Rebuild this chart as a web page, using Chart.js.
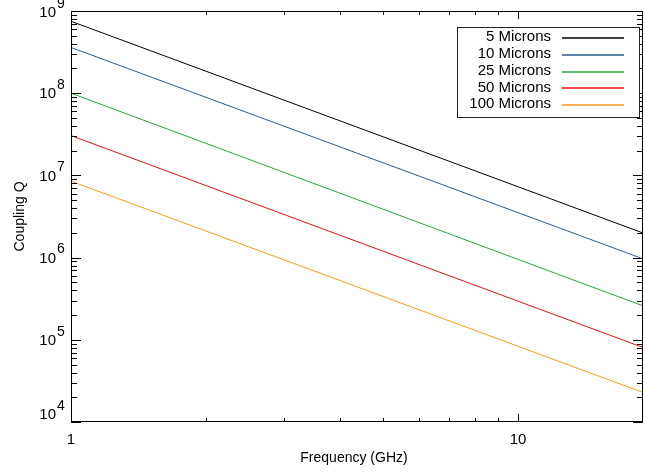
<!DOCTYPE html>
<html>
<head>
<meta charset="utf-8">
<script src="https://cdn.jsdelivr.net/npm/chart.js@4"></script>
<style>
  html, body { margin: 0; padding: 0; background: #fff; }
  #wrap { width: 645px; height: 473px; }
</style>
</head>
<body>
<div id="wrap"><canvas id="graf" width="645" height="473"></canvas></div>
<script>
// frequency end points (GHz) and coupling Q
var freq = [1, 19];
var q5 = [7.5e8, 2.0e6];
var q10 = [3.6e8, 9.7e5];
var q25 = [1.0e8, 2.6e5];
var q50 = [3.05e7, 8.1e4];
var q100 = [8.5e6, 2.3e4];
var labels = ["5 Microns", "10 Microns", "25 Microns", "50 Microns", "100 Microns"];
var colors = ["#000000", "#2b5c8e", "#2aa83a", "#e01010", "#ff9a1a"];
var xTicks = [1, 10];
var yTicks = [1e4, 1e5, 1e6, 1e7, 1e8, 1e9];

var series = [q5, q10, q25, q50, q100];
var FONT = "Liberation Sans, Arial, sans-serif";

function pts(vals) {
  return freq.map(function (f, i) { return { x: f, y: vals[i] }; });
}

// axes, ticks, labels and the legend drawn by hand
var decor = {
  id: "decor",
  afterDraw: function (chart) {
    var ctx = chart.ctx;
    var a = chart.chartArea;
    var xs = chart.scales.x, ys = chart.scales.y;
    ctx.save();
    ctx.strokeStyle = "#000";
    ctx.lineWidth = 1;
    ctx.strokeRect(a.left + 0.5, a.top + 0.5, a.right - a.left - 1, a.bottom - a.top - 1);

    // x ticks (bottom + top, inward)
    ctx.beginPath();
    for (var d = 1; d <= 10; d *= 10) {
      for (var m = 1; m <= 9; m++) {
        var v = d * m;
        if (v > xs.max) break;
        var px = Math.round(xs.getPixelForValue(v)) + 0.5;
        var len = (m === 1) ? 8 : 4;
        ctx.moveTo(px, a.bottom); ctx.lineTo(px, a.bottom - len);
        ctx.moveTo(px, a.top); ctx.lineTo(px, a.top + len);
      }
    }
    // y ticks (left + right, inward)
    for (var e = 4; e <= 9; e++) {
      for (var k = 1; k <= 9; k++) {
        var val = Math.pow(10, e) * k;
        if (val > ys.max) break;
        var py = Math.round(ys.getPixelForValue(val)) + 0.5;
        var l2 = (k === 1) ? 10 : 6;
        ctx.moveTo(a.left, py); ctx.lineTo(a.left + l2, py);
        ctx.moveTo(a.right, py); ctx.lineTo(a.right - l2, py);
      }
    }
    ctx.stroke();

    ctx.fillStyle = "#000";
    // x tick labels
    ctx.font = "15px " + FONT;
    ctx.textAlign = "center";
    ctx.textBaseline = "middle";
    xTicks.forEach(function (t) {
      ctx.fillText(String(t), xs.getPixelForValue(t), a.bottom + 18);
    });
    // y tick labels 10^n
    yTicks.forEach(function (t, i) {
      var py = ys.getPixelForValue(t);
      if (i === 0) py -= 7;
      else if (i === yTicks.length - 1) py += 2;
      else py += 1;
      var ex = String(Math.round(Math.log10(t)));
      ctx.textBaseline = "middle";
      ctx.font = "14px " + FONT;
      ctx.textAlign = "left";
      ctx.fillText(ex, 57, py - 9);
      ctx.font = "15px " + FONT;
      ctx.textAlign = "right";
      ctx.fillText("10", 56, py);
    });
    // axis titles
    ctx.font = "14px " + FONT;
    ctx.textAlign = "center";
    ctx.fillText("Frequency (GHz)", (a.left + a.right) / 2 - 3, a.bottom + 36);
    ctx.save();
    ctx.translate(20, (a.top + a.bottom) / 2);
    ctx.rotate(-Math.PI / 2);
    ctx.fillText("Coupling Q", 0, 0);
    ctx.restore();

    // legend
    var bx = 457, by = 27, bw = 182, bh = 90;
    ctx.fillStyle = "#fff";
    ctx.fillRect(bx, by, bw, bh);
    ctx.strokeStyle = "#222";
    ctx.lineWidth = 1;
    ctx.strokeRect(bx + 0.5, by + 0.5, bw, bh);
    ctx.font = "15px " + FONT;
    ctx.textAlign = "right";
    chart.data.datasets.forEach(function (ds, i) {
      var ry = by + 10 + i * 16.8;
      ctx.fillStyle = "#000";
      ctx.fillText(ds.label, 551, ry);
      ctx.strokeStyle = ds.borderColor;
      ctx.lineWidth = 1.5;
      ctx.beginPath();
      ctx.moveTo(562, Math.round(ry) + 1);
      ctx.lineTo(624, Math.round(ry) + 1);
      ctx.stroke();
    });
    ctx.restore();
  }
};

new Chart(document.getElementById("graf"), {
  type: "line",
  data: {
    datasets: series.map(function (s, i) {
      return {
        label: labels[i],
        data: pts(s),
        borderColor: colors[i],
        borderWidth: 1,
        pointRadius: 0,
        fill: false
      };
    })
  },
  options: {
    responsive: false,
    animation: false,
    layout: { padding: { left: 71, right: 2, top: 11, bottom: 51 } },
    plugins: { legend: { display: false }, tooltip: { enabled: false } },
    scales: {
      x: { type: "logarithmic", min: 1, max: 19.04, display: false },
      y: { type: "logarithmic", min: 1e4, max: 1e9, display: false }
    }
  },
  plugins: [decor]
});
</script>
</body>
</html>
